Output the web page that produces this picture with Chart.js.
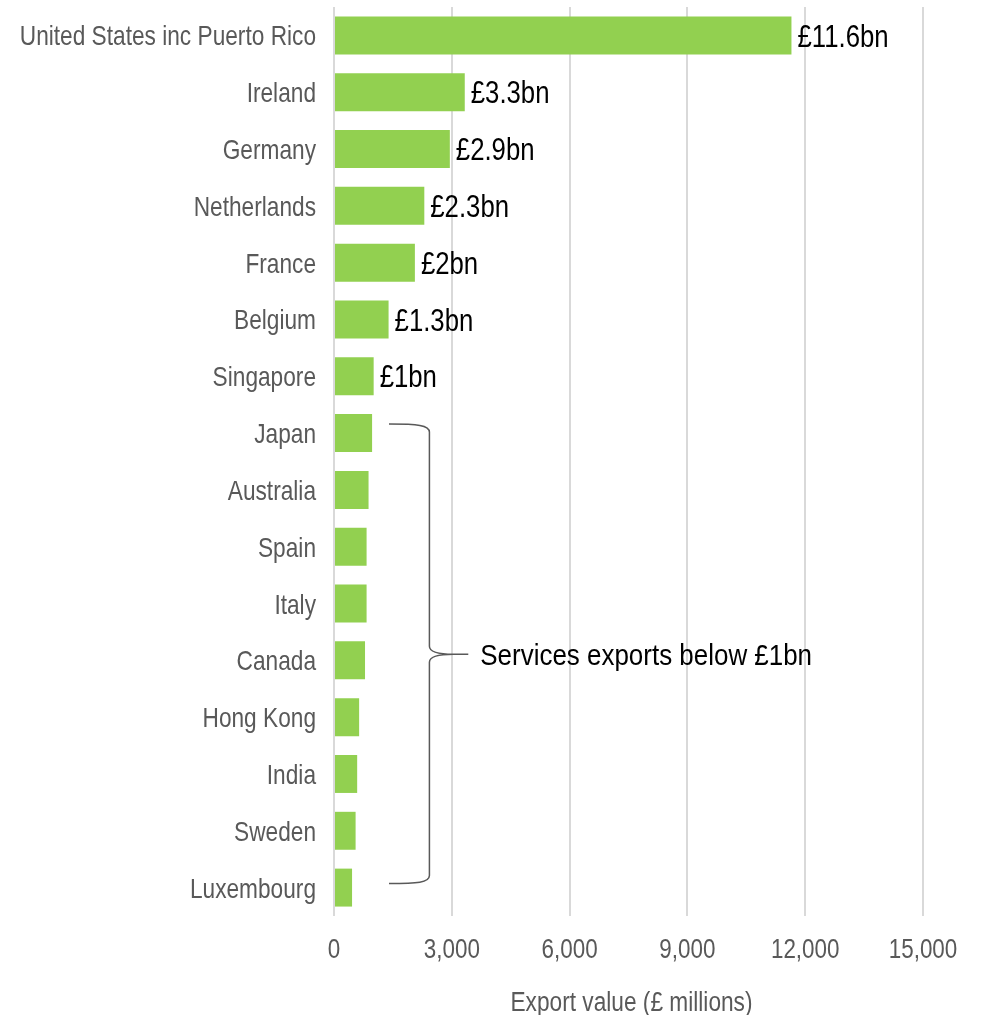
<!DOCTYPE html>
<html>
<head>
<meta charset="utf-8">
<script src="https://cdn.jsdelivr.net/npm/chart.js@4/dist/chart.umd.min.js"></script>
<style>
html,body{margin:0;padding:0;background:#fff;}
#wrap{width:982px;height:1015px;position:relative;}
</style>
</head>
<body>
<div id="wrap"><canvas id="c" width="982" height="1015"></canvas></div>
<script>
const categories = ["United States inc Puerto Rico","Ireland","Germany","Netherlands","France","Belgium","Singapore","Japan","Australia","Spain","Italy","Canada","Hong Kong","India","Sweden","Luxembourg"];
const exportValues = [11650,3330,2950,2300,2060,1390,1010,970,880,830,830,790,640,590,550,460];
const valueLabels = ["£11.6bn","£3.3bn","£2.9bn","£2.3bn","£2bn","£1.3bn","£1bn","","","","","","","","",""];
const xTicks = [0,3000,6000,9000,12000,15000];
const axisTitle = "Export value (£ millions)";
const bracketNote = "Services exports below £1bn";
const bracketFrom = "Japan";
const bracketTo = "Luxembourg";

const FONT = '"Liberation Sans",Arial,sans-serif';

// draw horizontally condensed text (emulates Arial Narrow); y = cap-height centre
function narrowText(ctx, text, x, y, size, color, align, sx) {
  ctx.save();
  ctx.font = size + 'px ' + FONT;
  ctx.fillStyle = color;
  ctx.textBaseline = 'alphabetic';
  ctx.textAlign = align;
  ctx.translate(x, y + size * 0.358);
  ctx.scale(sx, 1);
  ctx.fillText(text, 0, 0);
  ctx.restore();
}

const textPlugin = {
  id: 'axisText',
  afterDraw(chart) {
    const ctx = chart.ctx;
    const xs = chart.scales.x, ys = chart.scales.y;
    const area = chart.chartArea;
    categories.forEach((c, i) => {
      narrowText(ctx, c, area.left - 18, ys.getPixelForValue(i), 28, '#595959', 'right', 0.81);
    });
    xTicks.forEach(v => {
      narrowText(ctx, v.toLocaleString('en-GB'), xs.getPixelForValue(v), area.bottom + 32, 27, '#595959', 'center', 0.83);
    });
    narrowText(ctx, axisTitle, (area.left + area.right) / 2 + 3, area.bottom + 85, 27, '#595959', 'center', 0.84);
  }
};

const labelPlugin = {
  id: 'valueLabels',
  afterDatasetsDraw(chart) {
    const ctx = chart.ctx;
    const meta = chart.getDatasetMeta(0);
    meta.data.forEach((bar, i) => {
      if (valueLabels[i]) narrowText(ctx, valueLabels[i], bar.x + 6, bar.y, 31, '#000', 'left', 0.83);
    });
  }
};

const bracketPlugin = {
  id: 'bracket',
  afterDatasetsDraw(chart) {
    const ctx = chart.ctx;
    const xs = chart.scales.x, ys = chart.scales.y;
    const y1 = ys.getPixelForValue(categories.indexOf(bracketFrom)) - 9;
    const y2 = ys.getPixelForValue(categories.indexOf(bracketTo)) - 4;
    const xa = xs.getPixelForValue(1400);
    const xb = xs.getPixelForValue(2430);
    const xc = xs.getPixelForValue(3420);
    const ym = ys.getPixelForValue(11) - 6;
    ctx.save();
    ctx.strokeStyle = '#595959';
    ctx.lineWidth = 1.5;
    ctx.beginPath();
    ctx.moveTo(xa, y1);
    ctx.bezierCurveTo(xb - 12, y1, xb, y1 + 1, xb, y1 + 8);
    ctx.lineTo(xb, ym - 8);
    ctx.bezierCurveTo(xb, ym - 2, xb + 12, ym, xb + 24, ym);
    ctx.lineTo(xc, ym);
    ctx.moveTo(xb + 24, ym);
    ctx.bezierCurveTo(xb + 12, ym, xb, ym + 2, xb, ym + 8);
    ctx.lineTo(xb, y2 - 8);
    ctx.bezierCurveTo(xb, y2 - 1, xb - 12, y2, xa, y2);
    ctx.stroke();
    ctx.restore();
    narrowText(ctx, bracketNote, xc + 12, ym, 30, '#000', 'left', 0.865);
  }
};

new Chart(document.getElementById('c'), {
  type: 'bar',
  data: {
    labels: categories,
    datasets: [{
      data: exportValues,
      backgroundColor: '#92D050',
      borderWidth: 0,
      categoryPercentage: 1.0,
      barPercentage: 0.668
    }]
  },
  options: {
    indexAxis: 'y',
    responsive: false,
    animation: false,
    devicePixelRatio: 1,
    layout: { autoPadding: false, padding: { top: 7, right: 59, left: 0, bottom: 0 } },
    plugins: { legend: { display: false }, tooltip: { enabled: false } },
    scales: {
      x: {
        min: 0, max: 15000,
        afterBuildTicks(scale) { scale.ticks = xTicks.map(v => ({ value: v })); },
        afterFit(scale) { scale.height = 99; },
        grid: { color: '#d9d9d9', lineWidth: 2, drawTicks: false },
        border: { display: false },
        ticks: { display: false }
      },
      y: {
        grid: { display: false, drawTicks: false },
        border: { display: false },
        afterFit(scale) { scale.width = 334; },
        ticks: { display: false }
      }
    }
  },
  plugins: [labelPlugin, bracketPlugin, textPlugin]
});
</script>
</body>
</html>
